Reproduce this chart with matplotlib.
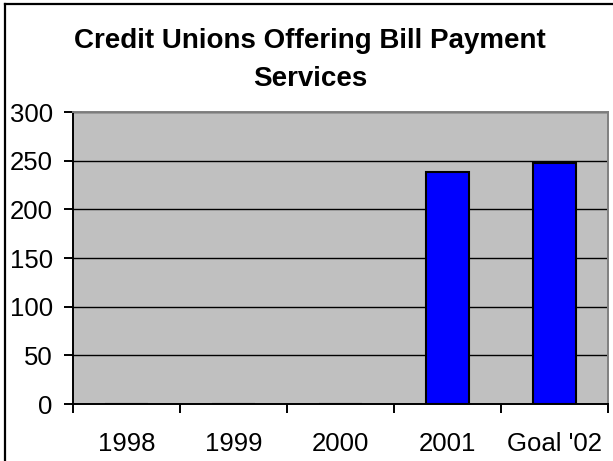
import numpy as np
import matplotlib
matplotlib.use("Agg")
import matplotlib.pyplot as plt
from matplotlib.lines import Line2D

plt.rcParams["font.family"] = ["Liberation Sans", "DejaVu Sans"]

categories = ["1998", "1999", "2000", "2001", "Goal '02"]
counts = [0, 0, 0, 238, 248]
y_ticks = [0, 50, 100, 150, 200, 250, 300]
title = "Credit Unions Offering Bill Payment\nServices"

W, H = 613, 461
fig = plt.figure(figsize=(W / 100, H / 100), dpi=100)
ax = fig.add_axes([73 / W, 1 - 404 / H, (608 - 73) / W, (404 - 112) / H])

ax.set_facecolor("#C0C0C0")
x = np.arange(len(categories))
ax.bar(x, counts, width=0.4, color="#0000FF", edgecolor="black",
       linewidth=1.5, zorder=3)

ax.set_xlim(-0.5, len(categories) - 0.5)
ax.set_ylim(0, 300)
ax.set_yticks(y_ticks)
ax.yaxis.grid(True, color="black", linewidth=1.0, zorder=1)
ax.set_axisbelow(True)

# ticks sit on category boundaries, labels in the middle
ax.set_xticks(np.arange(len(categories) + 1) - 0.5)
ax.set_xticklabels([])
ax.set_xticks(x, minor=True)
ax.set_xticklabels(categories, minor=True, fontsize=18.5)
ax.tick_params(axis="x", which="minor", length=0, pad=20)
ax.tick_params(axis="x", which="major", direction="out", length=6.5,
               width=1.4, color="black")
ax.tick_params(axis="y", direction="out", length=6.5, width=1.4,
               labelsize=18.5, pad=8)

for side in ["left", "bottom"]:
    ax.spines[side].set_color("black")
    ax.spines[side].set_linewidth(1.4)
for side in ["top", "right"]:
    ax.spines[side].set_color("#808080")
    ax.spines[side].set_linewidth(1.4)

fig.text(310 / W, 1 - 28 / H, title, ha="center", va="top",
         fontsize=20, fontweight="bold", linespacing=1.62)

# outer frame (top and left edges)
fig.add_artist(Line2D([5 / W, 1], [1 - 4 / H, 1 - 4 / H], color="black",
                      linewidth=1.6, transform=fig.transFigure))
fig.add_artist(Line2D([5 / W, 5 / W], [0, 1 - 4 / H], color="black",
                      linewidth=1.6, transform=fig.transFigure))

fig.savefig("out.png", dpi=100)
